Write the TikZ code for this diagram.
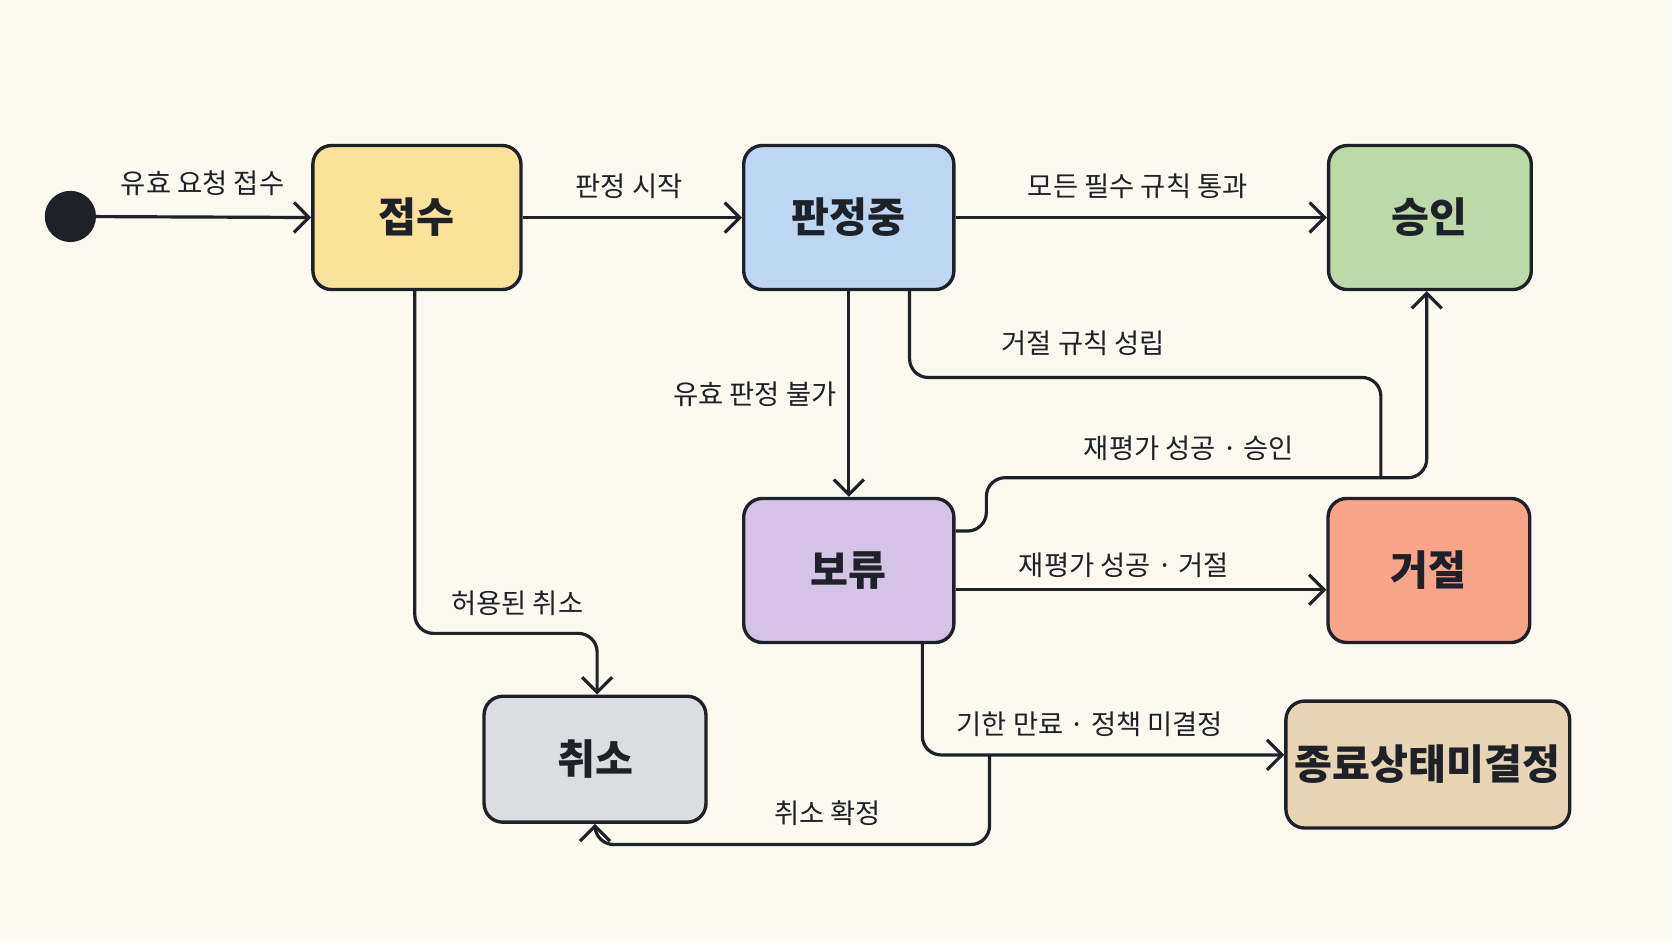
\documentclass[tikz,border=0pt]{standalone}
\usepackage{fontspec}
\setmainfont{Noto Sans CJK KR}
\newfontfamily\boldkr[FakeBold=0]{Noto Sans CJK KR Bold}
\usetikzlibrary{arrows.meta}
\definecolor{bgcol}{HTML}{FCF9F1}
\definecolor{ink}{HTML}{1E2128}
\definecolor{fillJ}{HTML}{FBE29A}
\definecolor{fillP}{HTML}{BDD7F2}
\definecolor{fillS}{HTML}{BDD9AA}
\definecolor{fillB}{HTML}{D5C3E6}
\definecolor{fillG}{HTML}{F8A58A}
\definecolor{fillC}{HTML}{DCDDE0}
\definecolor{fillU}{HTML}{E8D5B5}
\tikzset{
  state/.style={draw=ink,line width=0.9pt,rounded corners=5pt,inner sep=0pt,
    font=\fontsize{11}{13}\selectfont\bfseries,text=ink},
  trans/.style={draw=ink,line width=0.85pt,rounded corners=5pt,-{Straight Barb[length=4pt,width=8pt,line width=0.85pt]}},
  wire/.style={draw=ink,line width=0.85pt,rounded corners=5pt},
  elabel/.style={font=\fontsize{7.3}{9}\selectfont,text=ink}
}
\begin{document}
\begin{tikzpicture}[x=0.01cm,y=-0.01cm]
\fill[bgcol] (0,0) rectangle (1568,882);
% states
\fill[ink] (66,203) circle (0.24cm);
\coordinate (init) at (66,203);
\node[state,fill=fillJ,minimum width=1.95cm,minimum height=1.35cm] (jeopsu) at (391,204) {접수};
\node[state,fill=fillP,minimum width=1.97cm,minimum height=1.35cm] (panjeong) at (796,204) {판정중};
\node[state,fill=fillS,minimum width=1.90cm,minimum height=1.35cm] (seungin) at (1341,204) {승인};
\node[state,fill=fillB,minimum width=1.97cm,minimum height=1.35cm] (boryu) at (796,535) {보류};
\node[state,fill=fillG,minimum width=1.89cm,minimum height=1.35cm] (geojeol) at (1340,535) {거절};
\node[state,fill=fillC,minimum width=2.08cm,minimum height=1.18cm] (chwiso) at (558,712) {취소};
\node[state,fill=fillU,minimum width=2.66cm,minimum height=1.19cm] (mikyeol) at (1339,717) {종료상태미결정};
% transitions
\draw[trans] (init) -- (jeopsu.west);
\draw[trans] (jeopsu.east) -- (panjeong.west);
\draw[trans] (panjeong.east) -- (seungin.west);
\draw[trans] (panjeong.south) -- (boryu.north);
\coordinate (merge) at (1295,448);
\draw[wire] (panjeong.south -| 853,0) |- (1295,354) -- (merge);
\draw[trans] (boryu.east |- 0,498) -| (925,448) -| (seungin.south -| 1338,0);
\draw[trans] (boryu.east |- 0,553) -- (geojeol.west |- 0,553);
\draw[trans] (boryu.south -| 865,0) |- (mikyeol.west |- 0,708);
\draw[trans] (928,708) |- (558,792) -- (chwiso.south);
\draw[trans] (jeopsu.south -| 389,0) |- (560,594) -- (chwiso.north -| 560,0);
% labels
\node[elabel] at (190,172) {유효 요청 접수};
\node[elabel] at (590,175) {판정 시작};
\node[elabel] at (1067,175) {모든 필수 규칙 통과};
\node[elabel] at (1016,322) {거절 규칙 성립};
\node[elabel] at (708,370) {유효 판정 불가};
\node[elabel] at (1115,420) {재평가 성공 · 승인};
\node[elabel] at (1054,530) {재평가 성공 · 거절};
\node[elabel] at (485,566) {허용된 취소};
\node[elabel] at (1022,679) {기한 만료 · 정책 미결정};
\node[elabel] at (776,763) {취소 확정};
\end{tikzpicture}
\end{document}
